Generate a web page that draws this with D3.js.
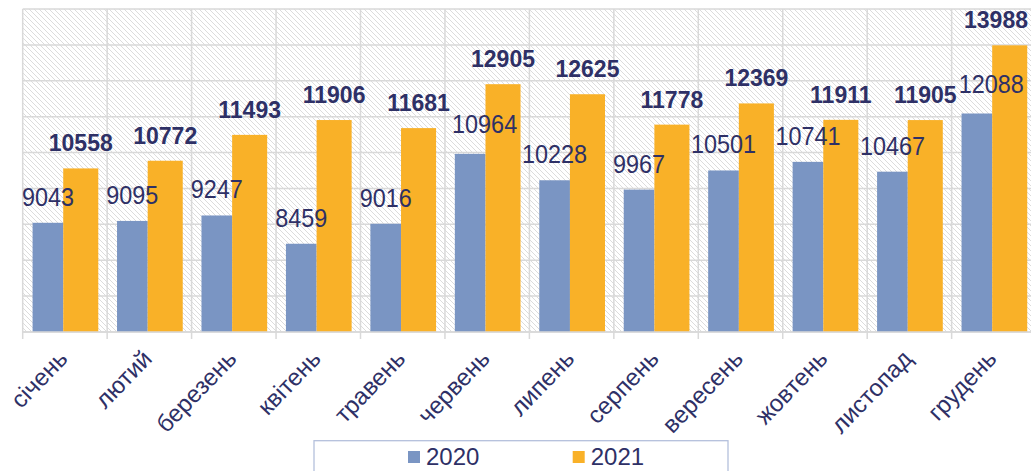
<!DOCTYPE html>
<html><head><meta charset="utf-8">
<script src="https://cdn.jsdelivr.net/npm/d3@7"></script>
<style>body{margin:0;background:#fff;}svg{display:block;font-family:"Liberation Sans",Arial,sans-serif;}</style>
</head><body>
<script>
const months = ["січень","лютий","березень","квітень","травень","червень","липень","серпень","вересень","жовтень","листопад","грудень"];
const values2020 = [9043,9095,9247,8459,9016,10964,10228,9967,10501,10741,10467,12088];
const values2021 = [10558,10772,11493,11906,11681,12905,12625,11778,12369,11911,11905,13988];
const seriesNames = ["2020","2021"];
const yTicks = [6000,7000,8000,9000,10000,11000,12000,13000,14000,15000];

(function(){
const W = 1031, H = 471;
const colors = ["#7A95C3","#F9B128"];
const textColor = "#2E3066";
const svg = d3.select("body").append("svg").attr("width",W).attr("height",H);

const pLeft = 22.7, pTop = 9, pBottom = 332;
const x = d3.scaleBand().domain(months).range([pLeft, pLeft + 12*84.45]).padding(0);
const y = d3.scaleLinear().domain([6000,15000]).range([pBottom, pTop]);

// hatch pattern
const defs = svg.append("defs");
const pat = defs.append("pattern").attr("id","hatch").attr("patternUnits","userSpaceOnUse")
  .attr("width",5).attr("height",5);
pat.append("rect").attr("width",5).attr("height",5).attr("fill","#fff");
pat.append("path").attr("d","M-1,-1 L6,6 M-1,4 L1,6 M4,-1 L6,1").attr("stroke","#DCDCDC").attr("stroke-width",1);

const x0 = x.range()[0], x1 = x.range()[1];
svg.append("rect").attr("x",x0).attr("y",pTop).attr("width",x1-x0).attr("height",pBottom-pTop).attr("fill","url(#hatch)");

// horizontal gridlines
svg.append("g").selectAll("line").data(yTicks).join("line")
  .attr("x1",x0).attr("x2",x1).attr("y1",d=>y(d)).attr("y2",d=>y(d))
  .attr("stroke","#D9D9D9").attr("stroke-width",1.5);
// vertical gridlines at category boundaries + ticks below axis
const bounds = months.map(m=>x(m)).concat([x1]);
svg.append("g").selectAll("line").data(bounds).join("line")
  .attr("x1",d=>d).attr("x2",d=>d).attr("y1",pTop).attr("y2",pBottom+7)
  .attr("stroke","#D9D9D9").attr("stroke-width",1.5);

// bars
const bw = x.bandwidth();
const off0 = 0.117*bw, w0 = 0.363*bw, w1 = 0.415*bw;
svg.append("g").selectAll("rect").data(values2020).join("rect")
  .attr("x",(d,i)=>x(months[i])+off0).attr("width",w0)
  .attr("y",d=>y(d)).attr("height",d=>pBottom-y(d)).attr("fill",colors[0]);
svg.append("g").selectAll("rect").data(values2021).join("rect")
  .attr("x",(d,i)=>x(months[i])+off0+w0).attr("width",w1)
  .attr("y",d=>y(d)).attr("height",d=>pBottom-y(d)).attr("fill",colors[1]);

// axis line
svg.append("line").attr("x1",x0).attr("x2",x1).attr("y1",pBottom).attr("y2",pBottom)
  .attr("stroke","#D9D9D9").attr("stroke-width",1.5);

// value labels (2021 first so 2020 labels can avoid them)
const lab21 = svg.append("g").selectAll("text").data(values2021).join("text")
  .attr("x",(d,i)=>Math.min(x(months[i])+off0+w0+w1/2, W-35)).attr("y",d=>y(d)-17)
  .attr("text-anchor","middle").attr("font-size",23).attr("font-weight","bold").attr("fill",textColor).text(d=>d);
const boxes21 = lab21.nodes().map(n=>n.getBBox());

svg.append("g").selectAll("text").data(values2020).join("text")
  .attr("text-anchor","middle").attr("font-size",26).attr("fill",textColor).text(d=>d)
  .each(function(d,i){
    let cx = x(months[i])+off0+w0/2, by = y(d)-17;
    const t = d3.select(this);
    const place = ()=>t.attr("transform",`translate(${cx},${by}) scale(0.9,1)`);
    place();
    if(i>0){
      const p = boxes21[i-1];
      let b = this.getBBox(); // local coords: width scaled by 0.9
      const left = cx + b.x*0.9, right = cx + (b.x+b.width)*0.9;
      const topY = by + b.y, botY = by + b.y + b.height;
      if(left < p.x+p.width && topY < p.y+p.height && botY > p.y){
        cx += (p.x+p.width) - left + 2;
        by -= 4;
        place();
      }
    }
  });

// category labels
svg.append("g").selectAll("text").data(months).join("text")
  .attr("transform",d=>`translate(${x(d)+bw/2+4},${pBottom+28}) rotate(-46)`)
  .attr("text-anchor","end").attr("font-size",24).attr("fill",textColor).text(d=>d);

// legend
svg.append("rect").attr("x",314).attr("y",440.7).attr("width",414).attr("height",40)
  .attr("fill","#fff").attr("stroke","#B4C0DC").attr("stroke-width",1.3);
const legX = [408, 572.7];
const lg = svg.append("g").selectAll("g").data(seriesNames).join("g")
  .attr("transform",(d,i)=>`translate(${legX[i]},451)`);
lg.append("rect").attr("width",12).attr("height",12).attr("fill",(d,i)=>colors[i]);
lg.append("text").attr("x",18).attr("y",14).attr("font-size",24).attr("fill",textColor).text(d=>d);
})();
</script>
</body></html>
